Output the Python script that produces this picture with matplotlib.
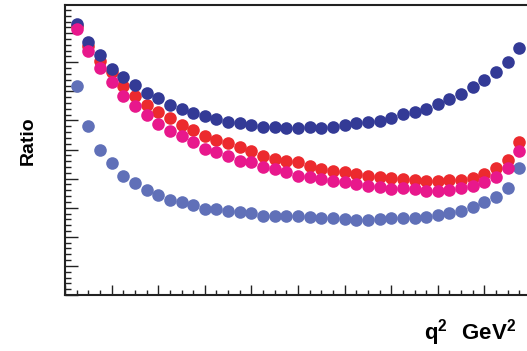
import numpy as np
import matplotlib
matplotlib.use("Agg")
import matplotlib.pyplot as plt
from matplotlib.ticker import MultipleLocator, NullFormatter

# q2 bins (centres), arbitrary units
q2 = np.arange(1, 40) * 0.25

# ratio values for the four curves
ratio_navy = [9.31, 8.69, 8.25, 7.77, 7.49, 7.22, 6.94, 6.77, 6.53, 6.39,
              6.25, 6.15, 6.05, 5.95, 5.91, 5.84, 5.77, 5.77, 5.74, 5.74,
              5.77, 5.74, 5.77, 5.84, 5.91, 5.95, 5.98, 6.08, 6.22, 6.29,
              6.39, 6.56, 6.74, 6.91, 7.15, 7.39, 7.66, 8.01, 8.49]
ratio_red = [9.24, 8.56, 8.04, 7.66, 7.18, 6.84, 6.53, 6.29, 6.08, 5.84,
             5.67, 5.46, 5.33, 5.22, 5.09, 4.95, 4.78, 4.67, 4.60, 4.57,
             4.43, 4.33, 4.26, 4.23, 4.16, 4.09, 4.06, 4.02, 3.99, 3.95,
             3.92, 3.92, 3.95, 3.95, 4.02, 4.16, 4.36, 4.64, 5.26]
ratio_pink = [9.14, 8.38, 7.80, 7.32, 6.84, 6.49, 6.19, 5.88, 5.64, 5.46,
              5.26, 5.02, 4.91, 4.78, 4.60, 4.57, 4.40, 4.33, 4.23, 4.09,
              4.06, 3.99, 3.92, 3.88, 3.81, 3.75, 3.71, 3.64, 3.68, 3.64,
              3.57, 3.57, 3.61, 3.68, 3.75, 3.88, 4.06, 4.36, 4.95]
ratio_light = [7.18, 5.81, 4.98, 4.54, 4.09, 3.85, 3.61, 3.44, 3.26, 3.20,
               3.09, 2.96, 2.96, 2.89, 2.85, 2.82, 2.72, 2.72, 2.72, 2.72,
               2.68, 2.65, 2.65, 2.61, 2.58, 2.58, 2.61, 2.65, 2.65, 2.65,
               2.68, 2.75, 2.82, 2.89, 3.02, 3.20, 3.37, 3.68, 4.36]

plt.rcParams["mathtext.fontset"] = "custom"
plt.rcParams["mathtext.bf"] = "Liberation Sans:bold"
plt.rcParams["mathtext.rm"] = "Liberation Sans:bold"

fig = plt.figure(figsize=(5.27, 3.51), dpi=100)
# axes runs a little past the right edge of the canvas, as in the original
ax = fig.add_axes([65 / 527, 56 / 351, 466 / 527, 290 / 351])

ms = 82
ax.scatter(q2, ratio_light, s=ms, color="#6070b8", linewidths=0, zorder=3)
ax.scatter(q2, ratio_red, s=ms, color="#ec2a2e", linewidths=0, zorder=4)
ax.scatter(q2, ratio_navy, s=ms, color="#333a96", linewidths=0, zorder=5)
ax.scatter(q2, ratio_pink, s=ms, color="#e8188c", linewidths=0, zorder=6)

ax.set_xlim(0, 10)
ax.set_ylim(0, 9.97)

ax.xaxis.set_major_locator(MultipleLocator(1))
ax.xaxis.set_minor_locator(MultipleLocator(0.25))
ax.yaxis.set_major_locator(MultipleLocator(1))
ax.yaxis.set_minor_locator(MultipleLocator(0.2))
ax.xaxis.set_major_formatter(NullFormatter())
ax.yaxis.set_major_formatter(NullFormatter())
ax.tick_params(which="both", direction="in", color="#222222",
               top=False, right=False, width=1.0)
ax.tick_params(axis="x", which="major", length=7)
ax.tick_params(axis="x", which="minor", length=3.5)
ax.tick_params(axis="y", which="major", length=9)
ax.tick_params(axis="y", which="minor", length=4.5)

for side in ax.spines.values():
    side.set_linewidth(1.5)
    side.set_color("#222222")

fig.text(28 / 527, 1 - 141 / 351, "Ratio", rotation=90, ha="center",
         va="center", fontsize=14, fontweight="bold", family="Liberation Sans")
fig.text(516 / 527, 1 - 333 / 351, r"$\mathbf{q^{2}\ \ GeV^{2}}$", ha="right",
         va="center", fontsize=16)

fig.savefig("out.png", dpi=100)
